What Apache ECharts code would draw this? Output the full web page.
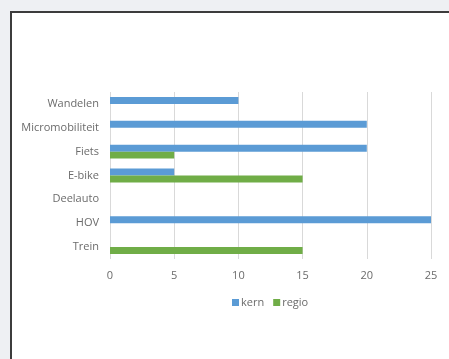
<!DOCTYPE html>
<html>
<head>
<meta charset="utf-8">
<script src="https://cdn.jsdelivr.net/npm/echarts@6/dist/echarts.min.js"></script>
<style>
  html, body { margin: 0; padding: 0; background: #eef0f3; overflow: hidden; }
  #panel { position: absolute; left: 10px; top: 11px; width: 460px; height: 370px;
           background: #ffffff; border: 2px solid #3c3c3c; box-sizing: border-box; }
  #chart { position: absolute; left: 0; top: 0; width: 449px; height: 359px; }
</style>
</head>
<body>
<div id="panel"></div>
<div id="chart"></div>
<script>
// Modes of transport, top to bottom
const categories = ['Wandelen', 'Micromobiliteit', 'Fiets', 'E-bike', 'Deelauto', 'HOV', 'Trein'];
const kern  = [10, 20, 20, 5, 0, 25, 0];
const regio = [0, 0, 5, 15, 0, 0, 15];
const xTicks = [0, 5, 10, 15, 20, 25];

const textColor = '#6b6b6b';
const font = 'Open Sans';
const fs = 11;

const chart = echarts.init(document.getElementById('chart'), null, { renderer: 'canvas' });
chart.setOption({
  backgroundColor: 'transparent',
  animation: false,
  textStyle: { fontFamily: font },
  grid: { left: 110, right: 18, top: 92, bottom: 100, containLabel: false },
  legend: {
    top: 292,
    left: 227,
    itemWidth: 7,
    itemHeight: 7,
    itemGap: 9,
    icon: 'rect',
    textStyle: { color: textColor, fontSize: fs, fontFamily: font, padding: [0, 0, 0, -3] },
    data: ['kern', 'regio']
  },
  xAxis: {
    type: 'value',
    min: xTicks[0],
    max: xTicks[xTicks.length - 1],
    interval: 5,
    axisLine: { show: false },
    axisTick: { show: false },
    axisLabel: { color: textColor, fontSize: fs, fontFamily: font, margin: 11 },
    splitLine: { show: true, lineStyle: { color: '#d9d9d9', width: 1 } }
  },
  yAxis: {
    type: 'category',
    data: categories,
    inverse: true,
    axisLine: { show: false },
    axisTick: { show: false },
    axisLabel: { color: textColor, fontSize: fs, fontFamily: font, margin: 11 },
    splitLine: { show: false }
  },
  series: [
    {
      name: 'kern', type: 'bar', data: kern,
      itemStyle: { color: '#5b9bd5' },
      barGap: '0%', barCategoryGap: '42%'
    },
    {
      name: 'regio', type: 'bar', data: regio,
      itemStyle: { color: '#70ad47' },
      barGap: '0%', barCategoryGap: '42%'
    }
  ]
});
</script>
</body>
</html>
